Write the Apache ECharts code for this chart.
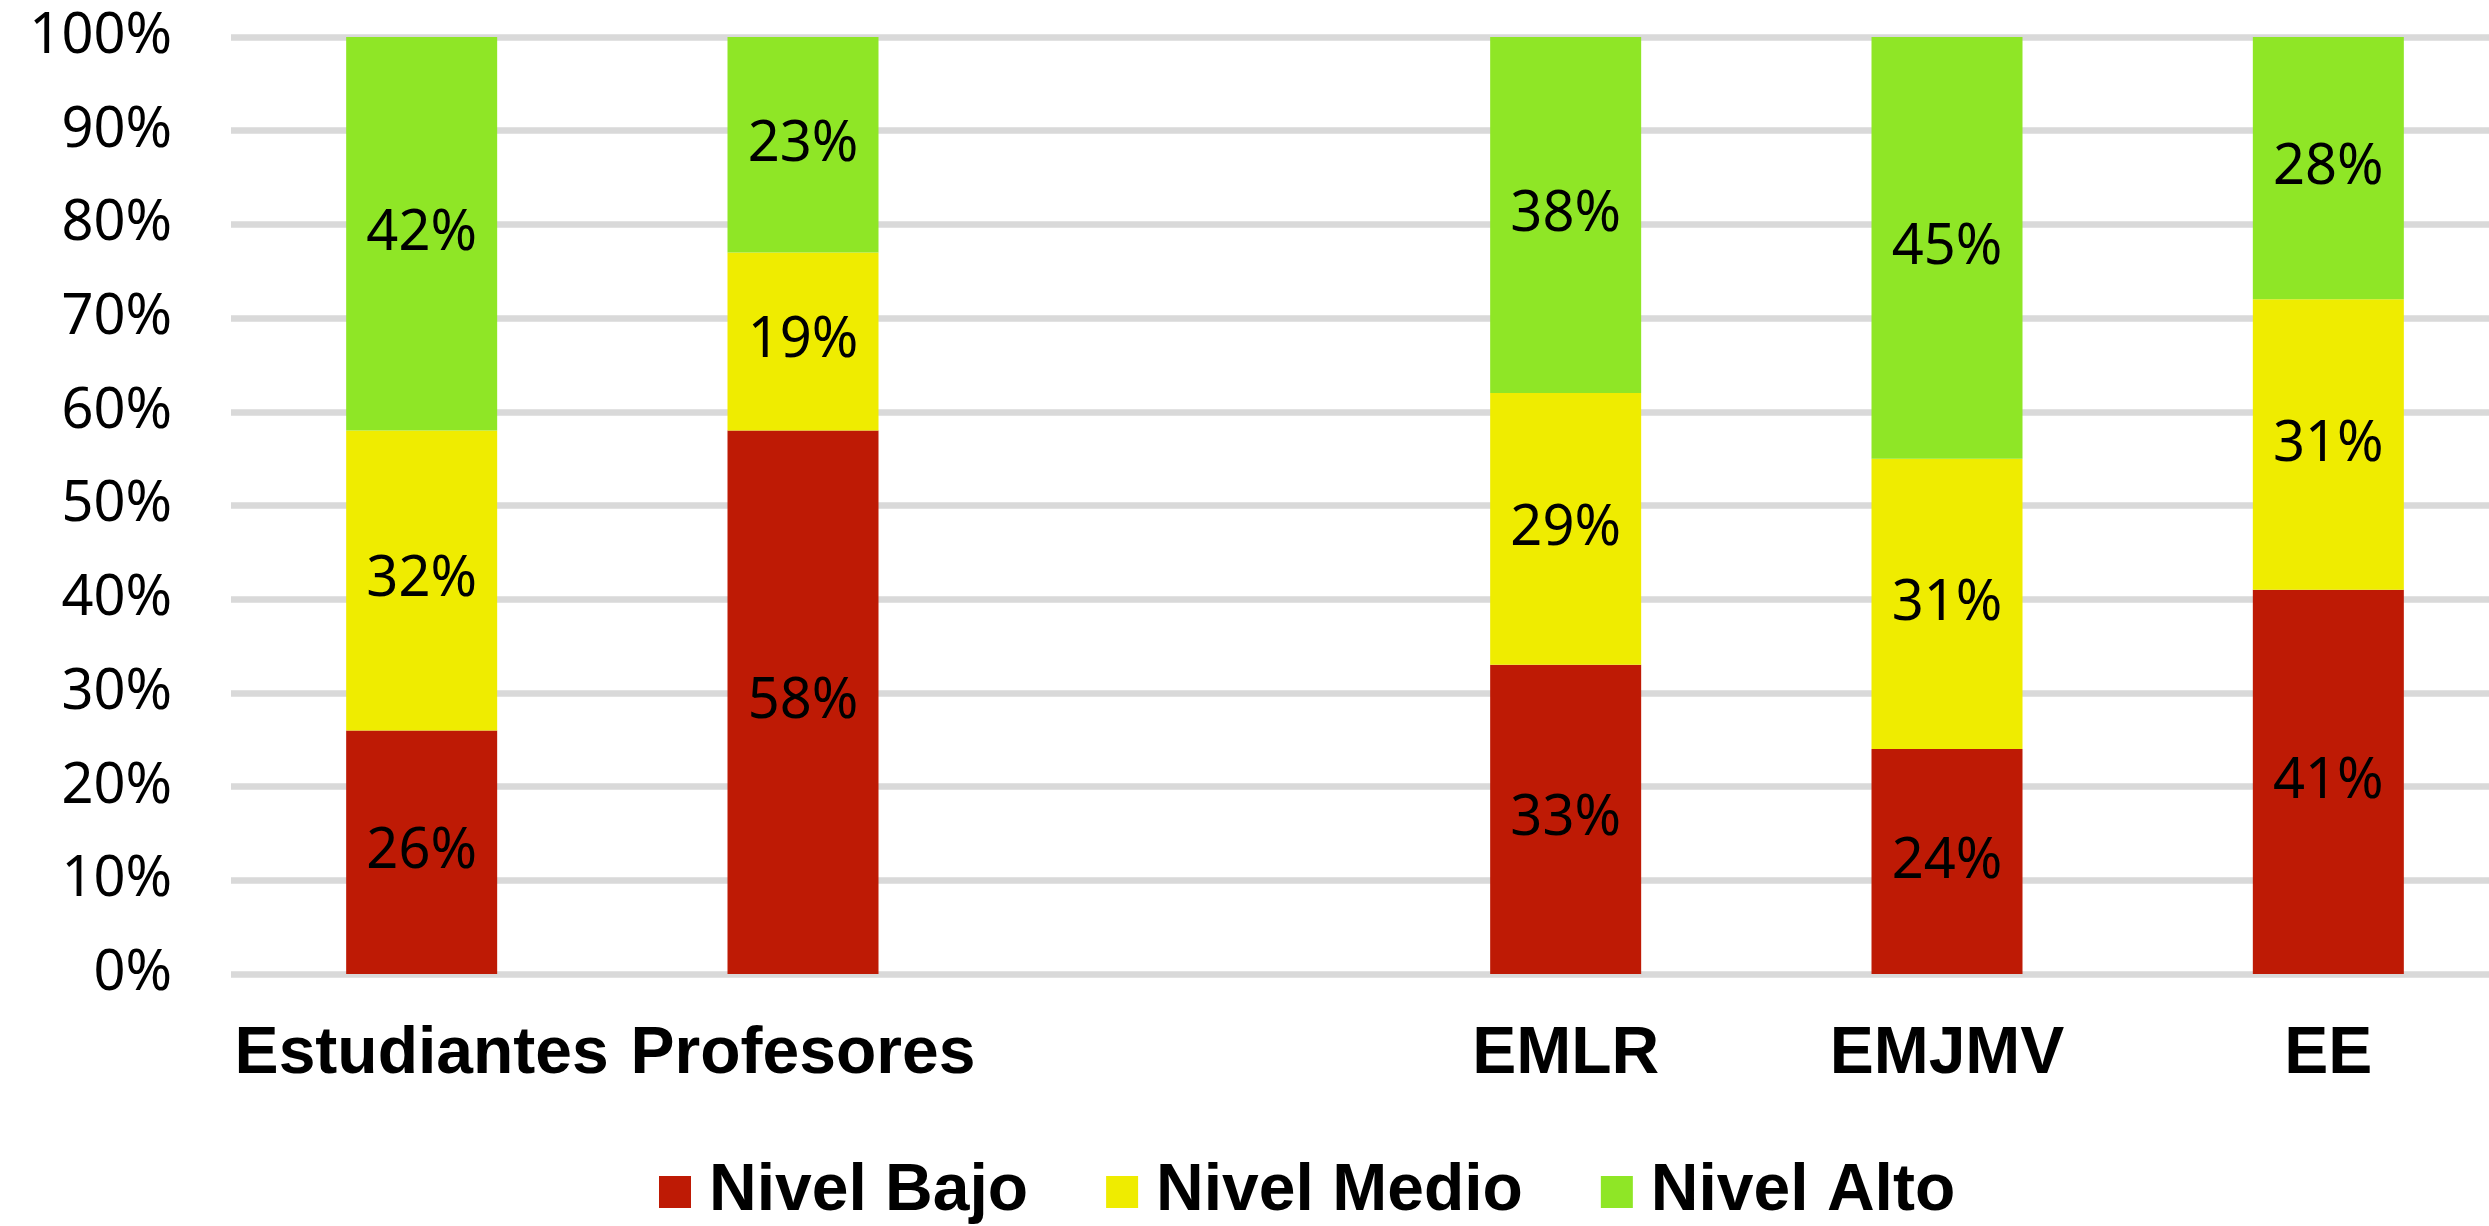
<!DOCTYPE html>
<html>
<head>
<meta charset="utf-8">
<title>Nivel por grupo</title>
<script src="https://cdn.jsdelivr.net/npm/echarts@6/dist/echarts.min.js"></script>
<style>
  html, body { margin: 0; padding: 0; background: #ffffff; overflow: hidden; }
  /* the plot runs slightly past the right edge of the window, so the canvas is wider than the view */
  #chart { width: 2520px; height: 1226px; }
</style>
</head>
<body>
<div id="chart"></div>
<script>
// Groups on the category axis (the blank entry leaves a gap between the two blocks)
const categories = ['Estudiantes', 'Profesores', '', 'EMLR', 'EMJMV', 'EE'];

// Share of each level per group, in percent
const nivelBajo  = [26, 58, null, 33, 24, 41];
const nivelMedio = [32, 19, null, 29, 31, 31];
const nivelAlto  = [42, 23, null, 38, 45, 28];

const seriesNames = ['Nivel Bajo', 'Nivel Medio', 'Nivel Alto'];
const seriesColors = ['#BE1A05', '#EFEC00', '#8FE626'];

// Y axis ticks: 0% .. 100% every 10%
const yMin = 0, yMax = 100, yStep = 10;

const numFont = "'Noto Sans', 'Open Sans', sans-serif";
const boldFont = "'Liberation Sans', Arial, sans-serif";

const chart = echarts.init(document.getElementById('chart'), null, { renderer: 'canvas' });

function makeSeries(name, data, color) {
  return {
    name: name,
    type: 'bar',
    stack: 'total',
    data: data,
    barWidth: 151,
    itemStyle: { color: color },
    label: {
      show: true,
      position: 'inside',
      formatter: '{c}%',
      color: '#000000',
      fontFamily: numFont,
      fontSize: 56
    },
    emphasis: { disabled: true }
  };
}

chart.setOption({
  animation: false,
  backgroundColor: '#ffffff',
  grid: {
    left: 231,
    top: 37,
    width: 2288,
    height: 937,
    containLabel: false
  },
  legend: {
    data: seriesNames,
    left: 659,
    top: 1159,
    padding: 0,
    itemWidth: 32,
    itemHeight: 32,
    itemGap: 78,
    icon: 'rect',
    formatter: '{t|{name}}',
    textStyle: {
      rich: {
        t: {
          fontFamily: boldFont,
          fontWeight: 'bold',
          fontSize: 66,
          color: '#000000',
          padding: [0, 0, 0, 13]
        }
      }
    }
  },
  xAxis: {
    type: 'category',
    data: categories,
    axisLine: { show: false },
    axisTick: { show: false },
    axisLabel: {
      interval: 0,
      margin: 48,
      color: '#000000',
      fontFamily: boldFont,
      fontWeight: 'bold',
      fontSize: 66
    },
    splitLine: { show: false }
  },
  yAxis: {
    type: 'value',
    min: yMin,
    max: yMax,
    interval: yStep,
    axisLine: { show: false },
    axisTick: { show: false },
    axisLabel: {
      formatter: '{value}%',
      margin: 59,
      color: '#000000',
      fontFamily: numFont,
      fontSize: 56
    },
    splitLine: {
      show: true,
      lineStyle: { color: '#D9D9D9', width: 6.5 }
    }
  },
  series: [
    makeSeries(seriesNames[0], nivelBajo, seriesColors[0]),
    makeSeries(seriesNames[1], nivelMedio, seriesColors[1]),
    makeSeries(seriesNames[2], nivelAlto, seriesColors[2])
  ]
});
</script>
</body>
</html>
